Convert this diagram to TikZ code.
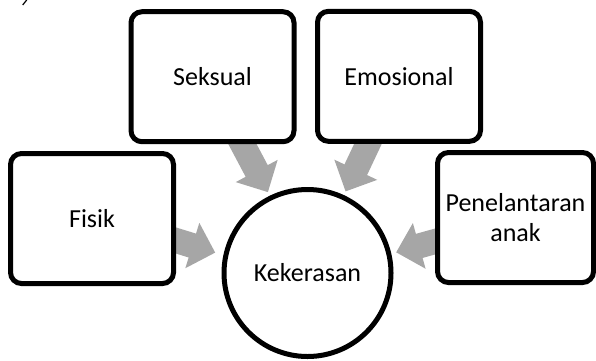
\documentclass[tikz,border=0pt]{standalone}
\usepackage{fontspec}
\setmainfont{Carlito}
\usepackage{tikz}
\usetikzlibrary{arrows.meta}
\usetikzlibrary{backgrounds}

\definecolor{panahabu}{RGB}{166,166,166}

\begin{document}
\begin{tikzpicture}[x=1pt,y=-1pt,
    kotak/.style={draw,line width=5pt,rounded corners=11pt,fill=white,align=center,
        font=\fontsize{26}{30}\selectfont,minimum width=163pt,minimum height=130pt},
    lingkaran/.style={draw,circle,line width=5pt,fill=white,minimum size=167pt,
        font=\fontsize{26}{30}\selectfont},
    panah/.style={draw=panahabu,line width=25pt,-{Triangle[length=24pt,width=46pt]},shorten <=-10pt}]
    \useasboundingbox (0,0) rectangle (596,360);

% 四个框
    \node[kotak] (seksual) at (212.5,76.7) {Seksual};
    \node[kotak] (emosional) at (399,76.3) {Emosional};
    \node[kotak] (fisik) at (92,218.5) {Fisik};
    \node[kotak,minimum width=156pt] (penelantaran) at (515.5,217.5) {Penelantaran\\anak};

% 中间的圆
    \node[lingkaran] (kekerasan) at (307.5,273) {Kekerasan};

% 灰色箭头
    \begin{scope}[on background layer]
    \draw[panah,shorten >=4pt] ([xshift=30pt]seksual.south) -- (kekerasan.116);
    \draw[panah,shorten >=4pt] ([xshift=-31pt]emosional.south) -- (kekerasan.65);
    \draw[panah,shorten >=8.5pt] ([yshift=-22pt]fisik.east) -- (kekerasan.168);
    \draw[panah,shorten >=5pt] ([yshift=-24pt]penelantaran.west) -- (kekerasan.13);
    \end{scope}

% 左上角残笔
    \draw[line width=1.2pt] (26.7,0) -- (22.7,5);
\end{tikzpicture}
\end{document}
